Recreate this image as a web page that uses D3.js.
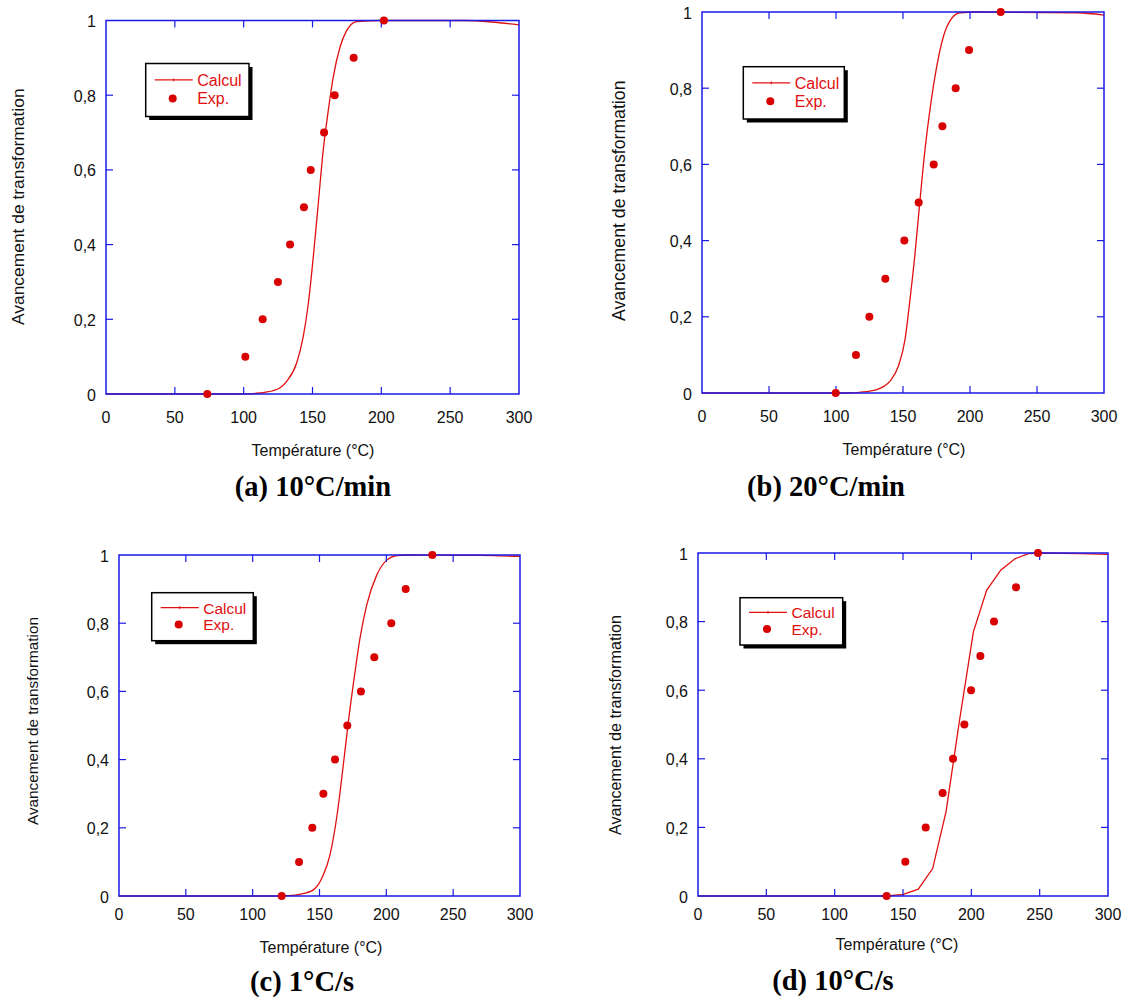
<!DOCTYPE html>
<html><head><meta charset="utf-8">
<script src="https://cdn.jsdelivr.net/npm/d3@7"></script>
<style>body{margin:0;background:#fff}</style>
</head><body>
<svg id="c" width="1128" height="997"></svg>
<script>
// ---- data ----
const xTicks = [0, 50, 100, 150, 200, 250, 300];
const yTicks = [0, 0.2, 0.4, 0.6, 0.8, 1];
const yTickLabels = ["0", "0,2", "0,4", "0,6", "0,8", "1"];
const captions = ["(a) 10°C/min", "(b) 20°C/min", "(c) 1°C/s", "(d) 10°C/s"];
const expFrac = [0, 0.1, 0.2, 0.3, 0.4, 0.5, 0.6, 0.7, 0.8, 0.9, 1.0];
const expTempA = [73.6, 101.2, 113.8, 124.9, 133.7, 143.8, 148.7, 158.4, 166.1, 179.9, 201.9];
const expTempB = [99.8, 114.9, 124.9, 136.8, 151.0, 161.7, 172.9, 179.4, 189.3, 199.3, 222.9];
const expTempC = [121.7, 134.7, 144.6, 152.9, 161.6, 170.8, 181.0, 191.0, 203.7, 214.5, 234.4];
const expTempD = [138.0, 151.7, 166.6, 179.0, 186.6, 194.9, 199.8, 206.6, 216.6, 232.7, 248.8];
const calcTempA = [0, 100, 111.9, 124.0, 131.2, 138.5, 143.3, 147.0, 150.6, 154.2, 157.8, 161.5, 165.1, 170.0, 174.8, 182.1, 200, 260, 280, 300];
const calcFracA = [0, 0, 0.003, 0.012, 0.034, 0.083, 0.154, 0.243, 0.368, 0.510, 0.653, 0.760, 0.849, 0.929, 0.973, 0.997, 1.0, 1.0, 0.996, 0.988];
const calcTempB = [0, 110, 117.9, 130.4, 140.3, 146.5, 151.5, 155.2, 159.0, 162.7, 166.4, 170.1, 175.2, 180.1, 186.3, 192.5, 205, 280, 300];
const calcFracB = [0, 0, 0.002, 0.009, 0.031, 0.070, 0.140, 0.245, 0.367, 0.507, 0.638, 0.743, 0.857, 0.935, 0.983, 0.998, 1.0, 0.998, 0.992];
const calcTempC = [0, 118, 125.4, 135.4, 145.4, 152.9, 157.8, 162.8, 167.8, 171.6, 176.6, 180.3, 185.3, 192.8, 200.3, 207.8, 215, 270, 300];
const calcFracC = [0, 0, 0.001, 0.005, 0.018, 0.062, 0.120, 0.228, 0.384, 0.511, 0.658, 0.756, 0.853, 0.941, 0.985, 0.998, 1.0, 0.999, 0.996];
const calcTempD = [0, 138, 150.2, 161.2, 171.7, 181.5, 191.2, 201.5, 211.2, 221.5, 231.9, 241.7, 250, 280, 300];
const calcFracD = [0, 0, 0.005, 0.02, 0.08, 0.246, 0.508, 0.77, 0.891, 0.95, 0.983, 0.998, 1.0, 0.998, 0.996];

// ---- layout ----
const panels = [
  {expT: expTempA, cT: calcTempA, cF: calcFracA, smooth: true,
   fr: {x0: 106, x1: 519, y0: 20.5, y1: 394}, xlDy: 28.7,
   yt: {x: 24, y: 206.7, fs: 17.4}, xt: {x: 313, y: 456}, cap: {x: 313, y: 496},
   lg: {x: 145.7, y: 63.5, w: 103.3, h: 53, fs: 16}},
  {expT: expTempB, cT: calcTempB, cF: calcFracB, smooth: true,
   fr: {x0: 702, x1: 1104, y0: 12, y1: 393}, xlDy: 28.7,
   yt: {x: 624.5, y: 200.8, fs: 17.7}, xt: {x: 904, y: 455}, cap: {x: 826, y: 496},
   lg: {x: 743.3, y: 66.7, w: 101, h: 52.3, fs: 16}},
  {expT: expTempC, cT: calcTempC, cF: calcFracC, smooth: true,
   fr: {x0: 119, x1: 520, y0: 555, y1: 896}, xlDy: 24,
   yt: {x: 38.3, y: 721, fs: 15.3}, xt: {x: 321, y: 953}, cap: {x: 302, y: 991},
   lg: {x: 151.7, y: 592.7, w: 101.6, h: 48, fs: 15.5}},
  {expT: expTempD, cT: calcTempD, cF: calcFracD, smooth: false,
   fr: {x0: 698, x1: 1108, y0: 553, y1: 896}, xlDy: 24,
   yt: {x: 621, y: 725, fs: 16.2}, xt: {x: 897, y: 950}, cap: {x: 833, y: 990},
   lg: {x: 740, y: 597.7, w: 102.7, h: 47.3, fs: 15.5}}
];

const svg = d3.select("#c");
const BLUE = "#1a1ae6", RED = "#e01010", DOT = "#d80000";
const SANS = "Liberation Sans, Arial, sans-serif";

panels.forEach((p, i) => {
  const g = svg.append("g");
  const x = d3.scaleLinear().domain([0, 300]).range([p.fr.x0, p.fr.x1]);
  const y = d3.scaleLinear().domain([0, 1]).range([p.fr.y1, p.fr.y0]);

  // curve
  const pts = p.cT.map((t, k) => [t, p.cF[k]]);
  const line = d3.line().x(d => x(d[0])).y(d => y(d[1]))
    .curve(p.smooth ? d3.curveMonotoneX : d3.curveLinear);
  g.append("path").attr("d", line(pts)).attr("fill", "none")
    .attr("stroke", RED).attr("stroke-width", 1.3);

  // frame
  g.append("rect").attr("x", p.fr.x0).attr("y", p.fr.y0)
    .attr("width", p.fr.x1 - p.fr.x0).attr("height", p.fr.y1 - p.fr.y0)
    .attr("fill", "none").attr("stroke", BLUE).attr("stroke-width", 1.5);

  // inward ticks (all four sides)
  const tl = 7;
  xTicks.slice(1, -1).forEach(t => {
    g.append("line").attr("x1", x(t)).attr("x2", x(t)).attr("y1", p.fr.y1).attr("y2", p.fr.y1 - tl)
      .attr("stroke", BLUE).attr("stroke-width", 1.2);
    g.append("line").attr("x1", x(t)).attr("x2", x(t)).attr("y1", p.fr.y0).attr("y2", p.fr.y0 + tl)
      .attr("stroke", BLUE).attr("stroke-width", 1.2);
  });
  yTicks.slice(1, -1).forEach(t => {
    g.append("line").attr("x1", p.fr.x0).attr("x2", p.fr.x0 + tl).attr("y1", y(t)).attr("y2", y(t))
      .attr("stroke", BLUE).attr("stroke-width", 1.2);
    g.append("line").attr("x1", p.fr.x1).attr("x2", p.fr.x1 - tl).attr("y1", y(t)).attr("y2", y(t))
      .attr("stroke", BLUE).attr("stroke-width", 1.2);
  });

  // tick labels
  xTicks.forEach(t => {
    g.append("text").attr("x", x(t)).attr("y", p.fr.y1 + p.xlDy)
      .attr("text-anchor", "middle").attr("font-family", SANS).attr("font-size", 16)
      .attr("fill", "#111").text(t);
  });
  yTicks.forEach((t, k) => {
    g.append("text").attr("x", p.fr.x0 - 10).attr("y", y(t) + 6.5)
      .attr("text-anchor", "end").attr("font-family", SANS).attr("font-size", 16)
      .attr("fill", "#111").text(yTickLabels[k]);
  });

  // exp points
  g.selectAll("circle.e").data(p.expT).enter().append("circle")
    .attr("cx", d => x(d)).attr("cy", (d, k) => y(expFrac[k])).attr("r", 4)
    .attr("fill", DOT);

  // axis titles
  g.append("text").attr("transform", `translate(${p.yt.x},${p.yt.y}) rotate(-90)`)
    .attr("text-anchor", "middle").attr("font-family", SANS).attr("font-size", p.yt.fs)
    .attr("fill", "#111").text("Avancement de transformation");
  g.append("text").attr("x", p.xt.x).attr("y", p.xt.y).attr("text-anchor", "middle")
    .attr("font-family", SANS).attr("font-size", 16).attr("fill", "#111")
    .text("Température (°C)");
  g.append("text").attr("x", p.cap.x).attr("y", p.cap.y).attr("text-anchor", "middle")
    .attr("font-family", "Liberation Serif, Times New Roman, serif").attr("font-weight", "bold")
    .attr("font-size", 28.5).attr("fill", "#000").text(captions[i]);

  // legend
  const L = p.lg;
  g.append("rect").attr("x", L.x + 3.5).attr("y", L.y + 3.5).attr("width", L.w).attr("height", L.h).attr("fill", "#000");
  g.append("rect").attr("x", L.x).attr("y", L.y).attr("width", L.w).attr("height", L.h)
    .attr("fill", "#fff").attr("stroke", "#000").attr("stroke-width", 1.5);
  const ly = L.y + 0.31 * L.h, dy = L.y + 0.66 * L.h;
  g.append("line").attr("x1", L.x + 9).attr("x2", L.x + 47).attr("y1", ly).attr("y2", ly)
    .attr("stroke", RED).attr("stroke-width", 1.2);
  g.append("line").attr("x1", L.x + 28).attr("x2", L.x + 28).attr("y1", ly - 1.5).attr("y2", ly + 1.5)
    .attr("stroke", RED).attr("stroke-width", 1);
  g.append("circle").attr("cx", L.x + 27).attr("cy", dy).attr("r", 4).attr("fill", DOT);
  g.append("text").attr("x", L.x + 51.5).attr("y", ly + 6).attr("font-family", SANS)
    .attr("font-size", L.fs).attr("fill", RED).text("Calcul");
  g.append("text").attr("x", L.x + 51.5).attr("y", dy + 6).attr("font-family", SANS)
    .attr("font-size", L.fs).attr("fill", RED).text("Exp.");
});
</script>
</body></html>
